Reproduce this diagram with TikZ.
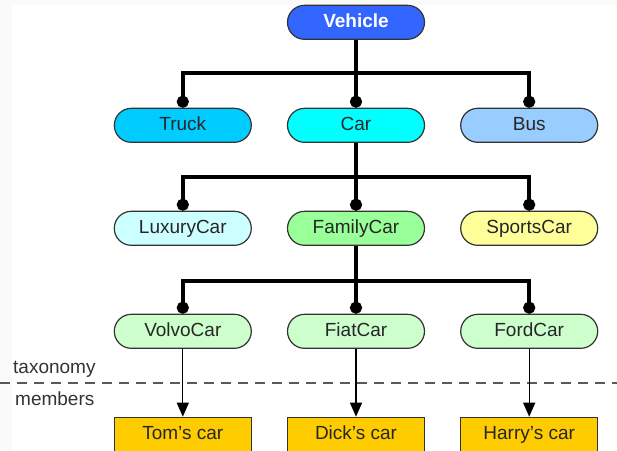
\documentclass[tikz,border=0pt]{standalone}
\usepackage{fontspec}
\setmainfont{Liberation Sans}
\usetikzlibrary{matrix}
\usetikzlibrary{arrows.meta}
\usetikzlibrary{positioning}
\definecolor{vehicleblue}{HTML}{3366FF}
\definecolor{truckblue}{HTML}{00CCFF}
\definecolor{carcyan}{HTML}{00FFFF}
\definecolor{busblue}{HTML}{99CCFF}
\definecolor{luxurycyan}{HTML}{CCFFFF}
\definecolor{familygreen}{HTML}{99FF99}
\definecolor{sportsyellow}{HTML}{FFFF99}
\definecolor{brandgreen}{HTML}{CCFFCC}
\definecolor{membergold}{HTML}{FFCC00}
\definecolor{framegrey}{HTML}{FAFAFA}
\tikzset{kind/.style={draw=black!80, fill=#1, line width=1.2pt, rounded corners=17pt,
    minimum width=137pt, minimum height=34pt, text height=14pt, text depth=4pt,
    inner sep=0pt, text=black!85},
  member/.style={draw=black!80, fill=membergold, line width=1.2pt,
    minimum width=137pt, minimum height=34pt, text height=14pt, text depth=4pt,
    inner sep=0pt, text=black!85},
  link/.style={line width=4pt, -{Circle[length=12pt]}},
  instanceof/.style={line width=1.3pt, -{Triangle[length=14pt, width=12pt]}},
  separator/.style={draw=black!65, line width=2pt, dash pattern=on 10pt off 7pt}}

\begin{document}
\begin{tikzpicture}[x=1pt, y=-1pt, font=\fontsize{19}{21}\selectfont]
\clip (0,0) rectangle (617,450);
\fill[framegrey] (0,0) rectangle (617,450);
\fill[white] (12,5) rectangle (617,450);

\matrix (m) [matrix of nodes, column sep = 35pt, row sep = 67.8pt, inner sep=0pt,
  anchor=north] at (356,4.5) {
  & |[kind=vehicleblue, text=white, font=\fontsize{19}{21}\selectfont\bfseries]| Vehicle & \\
  |[kind=truckblue]| Truck & |[kind=carcyan]| Car & |[kind=busblue]| Bus \\
  |[kind=luxurycyan]| LuxuryCar & |[kind=familygreen]| FamilyCar & |[kind=sportsyellow]| SportsCar \\
  |[kind=brandgreen]| VolvoCar & |[kind=brandgreen]| FiatCar & |[kind=brandgreen]| FordCar \\
  |[member]| Tom's car & |[member]| Dick's car & |[member]| Harry's car \\
};

% taxonomy / members boundary
\draw[separator] (0,383) -- (617,383);
\node[anchor=base west, text=black!80, inner sep=0pt] (tax) at (13,373) {taxonomy};
\node[text=black!80, inner sep=0pt, below=14pt of tax.south west, anchor=north west, xshift=2pt] (mem) {members};

% subclass links
\draw[link] (m-1-2.south) -- ++(0,33) -| (m-2-1.north);
\draw[link] (m-1-2.south) -- (m-2-2.north);
\draw[link] (m-1-2.south) -- ++(0,33) -| (m-2-3.north);
\draw[link] (m-2-2.south) -- ++(0,34) -| (m-3-1.north);
\draw[link] (m-2-2.south) -- (m-3-2.north);
\draw[link] (m-2-2.south) -- ++(0,34) -| (m-3-3.north);
\draw[link] (m-3-2.south) -- ++(0,35) -| (m-4-1.north);
\draw[link] (m-3-2.south) -- (m-4-2.north);
\draw[link] (m-3-2.south) -- ++(0,35) -| (m-4-3.north);

% instance links
\draw[instanceof] (m-4-1.south) -- (m-5-1.north);
\draw[instanceof] (m-4-2.south) -- (m-5-2.north);
\draw[instanceof] (m-4-3.south) -- (m-5-3.north);
\end{tikzpicture}
\end{document}
